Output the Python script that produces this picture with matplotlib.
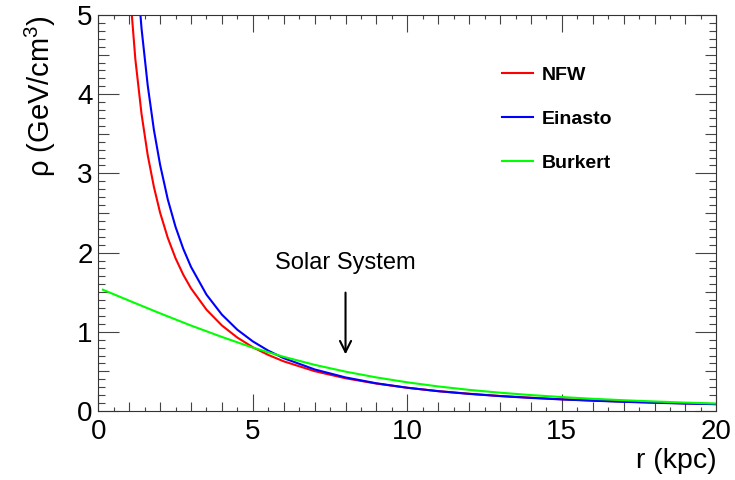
import numpy as np
import matplotlib
matplotlib.use("Agg")
import matplotlib.pyplot as plt
from matplotlib.ticker import MultipleLocator, FuncFormatter

plt.rcParams['font.family'] = ['Liberation Sans', 'DejaVu Sans']
plt.rcParams['mathtext.fontset'] = 'custom'
plt.rcParams['mathtext.rm'] = 'Liberation Sans'

# dark matter density profiles (GeV/cm^3 vs kpc)
r_cusp = [1.0, 1.2, 1.4, 1.6, 1.8, 2.0, 2.25, 2.5, 2.75, 3.0, 3.5, 4.0, 4.5, 5.0, 5.5,
          6, 7, 8, 9, 10, 11, 12, 13, 14, 15, 16, 17, 18, 19, 20]
rho_nfw = [5.42, 4.44, 3.75, 3.23, 2.83, 2.505, 2.185, 1.929, 1.721, 1.549, 1.280, 1.080,
           0.927, 0.805, 0.708, 0.627, 0.503, 0.413, 0.346, 0.293, 0.251, 0.218, 0.190,
           0.168, 0.148, 0.132, 0.119, 0.107, 0.096, 0.087]
rho_einasto = [7.15, 5.79, 4.83, 4.11, 3.55, 3.11, 2.67, 2.325, 2.048, 1.820, 1.470, 1.217,
               1.026, 0.879, 0.762, 0.667, 0.525, 0.424, 0.350, 0.294, 0.250, 0.216, 0.188,
               0.165, 0.146, 0.130, 0.116, 0.104, 0.094, 0.086]
r_core = [0.15, 1, 2, 3, 4, 5, 6, 7, 8, 9, 10, 11, 12, 13, 14, 15, 16, 17, 18, 19, 20]
rho_burkert = [1.531, 1.393, 1.233, 1.079, 0.935, 0.800, 0.684, 0.583, 0.497, 0.424, 0.362,
               0.310, 0.267, 0.231, 0.201, 0.176, 0.154, 0.136, 0.120, 0.106, 0.094]

sun_r = 8.0
arrow_top, arrow_tip = 1.53, 0.68

fig = plt.figure(figsize=(7.35, 4.8), dpi=100)
ax = fig.add_axes([0.1337, 0.14375, 0.841, 0.825])

ax.plot(r_cusp, rho_nfw, color='#ff0000', lw=1.5, label='NFW')
ax.plot(r_cusp, rho_einasto, color='#0000ff', lw=1.5, label='Einasto')
ax.plot(r_core, rho_burkert, color='#00ff00', lw=1.5, label='Burkert')

ax.set_xlim(0, 20)
ax.set_ylim(0, 5)

for s in ax.spines.values():
    s.set_linewidth(0.8)
    s.set_color('#333333')

ax.xaxis.set_major_locator(MultipleLocator(1))
ax.xaxis.set_minor_locator(MultipleLocator(0.5))
ax.yaxis.set_major_locator(MultipleLocator(0.5))
ax.yaxis.set_minor_locator(MultipleLocator(0.1))
ax.xaxis.set_major_formatter(FuncFormatter(lambda v, p: '%d' % v if abs(v % 5) < 1e-6 else ''))
ax.yaxis.set_major_formatter(FuncFormatter(lambda v, p: '%d' % v if abs(v % 1) < 1e-6 else ''))

ax.tick_params(which='both', direction='in', top=True, right=True, color='#444444', width=0.8)
ax.tick_params(axis='x', which='major', labelsize=20, pad=6)
ax.tick_params(axis='y', which='major', labelsize=20, pad=4)
ax.tick_params(axis='x', which='minor', length=3.2)
ax.tick_params(axis='y', which='minor', length=4.7)

# ROOT style: long ticks at labelled values, medium ticks in between
fig.canvas.draw()
for v, t in zip(ax.get_xticks(), ax.xaxis.get_major_ticks()):
    L = 12.2 if abs(v % 5) < 1e-6 else 6.5
    t.tick1line.set_markersize(L)
    t.tick2line.set_markersize(L)
for v, t in zip(ax.get_yticks(), ax.yaxis.get_major_ticks()):
    L = 15 if abs(v % 1) < 1e-6 else 8
    t.tick1line.set_markersize(L)
    t.tick2line.set_markersize(L)

ax.set_xlabel('r (kpc)', fontsize=20.5, loc='right', labelpad=2)
ax.set_ylabel(r'ρ (GeV/cm$^{3}$)', fontsize=21, loc='top', labelpad=14)

ax.annotate('', xy=(sun_r, arrow_tip), xytext=(sun_r, arrow_top),
            arrowprops=dict(arrowstyle='->', color='black', lw=1.5, mutation_scale=20))
ax.text(sun_r, 1.79, 'Solar System', fontsize=17, ha='center', va='baseline')

leg = ax.legend(loc='upper left', bbox_to_anchor=(0.64, 0.89), frameon=False,
                prop={'size': 14, 'weight': 'bold'}, handlelength=1.6, handletextpad=0.45,
                labelspacing=1.35, borderaxespad=0)

fig.savefig('out.png', dpi=100)
